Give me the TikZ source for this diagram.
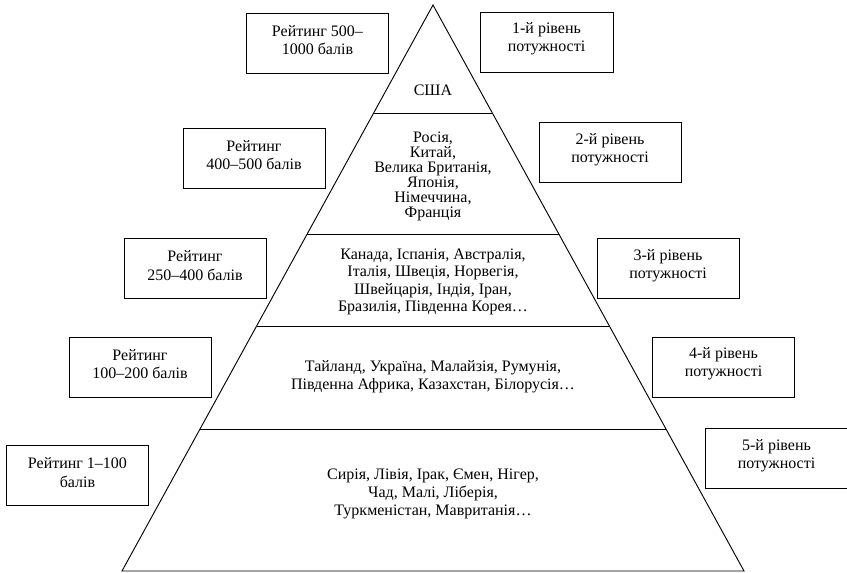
\documentclass[tikz,border=0pt]{standalone}
\usepackage{fontspec}
\setmainfont{Liberation Serif}
\usetikzlibrary{calc}
\newcommand\labelbox[4][]{%
  \node[lbox,#1] (#2) at (#3) {};
  \node (#2t) at ($(#2.center)+(0,-3)$) {#4};}
\begin{document}
\begin{tikzpicture}[x=0.75pt,y=-0.75pt,
  every node/.style={font=\fontsize{12}{13.8}\selectfont, align=center, inner sep=0pt},
  lbox/.style={draw, line width=0.7pt, minimum width=106.5pt, minimum height=45pt},
  tier/.style={},
  edge/.style={line width=0.7pt}]
\useasboundingbox (0,0) rectangle (847,573);
% pyramid
\coordinate (apex) at (433,5);
\coordinate (bl) at (122,571);
\coordinate (br) at (744,571);
\draw[edge, line join=miter] (apex) -- (bl) -- (br) -- cycle;
\coordinate (l1) at ($(apex)!0.1908!(bl)$);
\coordinate (r1) at ($(apex)!0.1908!(br)$);
\coordinate (l2) at ($(apex)!0.4046!(bl)$);
\coordinate (r2) at ($(apex)!0.4046!(br)$);
\coordinate (l3) at ($(apex)!0.5671!(bl)$);
\coordinate (r3) at ($(apex)!0.5671!(br)$);
\coordinate (l4) at ($(apex)!0.7491!(bl)$);
\coordinate (r4) at ($(apex)!0.7491!(br)$);
\draw[edge] (l1) -- (r1);
\draw[edge] (l2) -- (r2);
\draw[edge] (l3) -- (r3);
\draw[edge] (l4) -- (r4);
% tier texts
\node[tier] (t1) at (433,90) {США};
\node[tier, font=\fontsize{12}{11.25}\selectfont] (t2) at (433,176) {Росія,\\Китай,\\Велика Британія,\\Японія,\\Німеччина,\\Франція};
\node[tier, font=\fontsize{12}{13}\selectfont] (t3) at (433,282) {Канада, Іспанія, Австралія,\\Італія, Швеція, Норвегія,\\Швейцарія, Індія, Іран,\\Бразилія, Південна Корея…};
\node[tier, font=\fontsize{12}{13.5}\selectfont] (t4) at (433,377) {Тайланд, Україна, Малайзія, Румунія,\\Південна Африка, Казахстан, Білорусія…};
\node[tier, font=\fontsize{12}{13.5}\selectfont] (t5) at (433,494) {Сирія, Лівія, Ірак, Ємен, Нігер,\\Чад, Малі, Ліберія,\\Туркменістан, Мавританія…};
% left boxes
\labelbox{a1}{317.5,43}{Рейтинг 500–\\1000 балів}
\labelbox{a2}{254,158}{Рейтинг\\400–500 балів}
\labelbox{a3}{195,268.5}{Рейтинг\\250–400 балів}
\labelbox{a4}{140,367}{Рейтинг\\100–200 балів}
\labelbox{a5}{77.5,475.5}{Рейтинг 1–100\\балів}
% right boxes
\labelbox[minimum width=99.75pt]{b1}{546.5,42}{1-й рівень\\потужності}
\labelbox{b2}{610,152.5}{2-й рівень\\потужності}
\labelbox{b3}{668,268.5}{3-й рівень\\потужності}
\labelbox{b4}{723.5,367}{4-й рівень\\потужності}
\labelbox{b5}{776.5,458.5}{5-й рівень\\потужності}
\end{tikzpicture}
\end{document}
